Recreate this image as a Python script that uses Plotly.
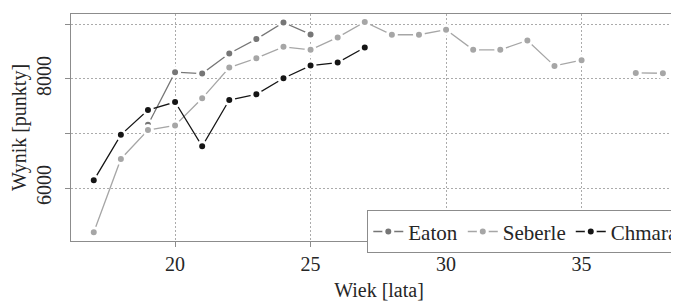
import plotly.graph_objects as go

# Data (age in years, score in points)
eaton_age = [19, 20, 21, 22, 23, 24, 25]
eaton_score = [7160, 8123, 8098, 8466, 8730, 9036, 8815]

seberle_age = [17, 18, 19, 20, 21, 22, 23, 24, 25, 26, 27, 28, 29, 30, 31, 32, 33, 34, 35, 36, 37, 38]
seberle_score = [5190, 6534, 7062, 7148, 7645, 8208, 8380, 8589, 8534, 8761, 9043,
                 8810, 8810, 8902, 8534, 8534, 8705, 8239, 8344, None, 8110, 8104]

chmara_age = [17, 18, 19, 20, 21, 22, 23, 24, 25, 26, 27]
chmara_score = [6142, 6975, 7430, 7577, 6767, 7614, 7718, 8013, 8245, 8300, 8576]

x_ticks = [20, 25, 30, 35]
y_ticks = [6000, 7000, 8000, 9000]
y_ticktext = ["6000", "", "8000", ""]

FONT = "Liberation Serif"
TXT = "#262626"
AX = "#8c8c8c"
GRID = "#ababab"

def trace(name, xs, ys, color):
    return go.Scatter(
        x=xs, y=ys, name=name, mode="lines+markers",
        line=dict(color=color, width=1.3),
        marker=dict(color=color, size=9, line=dict(color="white", width=3)),
        connectgaps=False,
    )

fig = go.Figure()
fig.add_trace(trace("Eaton", eaton_age, eaton_score, "#767676"))
fig.add_trace(trace("Seberle", seberle_age, seberle_score, "#a6a6a6"))
fig.add_trace(trace("Chmara", chmara_age, chmara_score, "#151515"))

fig.update_layout(
    width=679, height=301,
    margin=dict(l=63, r=0, t=6, b=68),
    paper_bgcolor="white", plot_bgcolor="white",
    font=dict(family=FONT, size=20, color=TXT),
    showlegend=True,
    legend=dict(
        orientation="h", x=0.481, y=0.135, xanchor="left", yanchor="top",
        bgcolor="white", bordercolor=AX, borderwidth=1,
        font=dict(family=FONT, size=21, color=TXT),
        itemwidth=30, tracegroupgap=0,
    ),
    xaxis=dict(
        range=[16.16, 38.89], tickvals=x_ticks,
        showgrid=True, gridcolor=GRID, griddash="2px,2px", gridwidth=1,
        showline=True, mirror=True, linecolor=AX, linewidth=1,
        ticks="outside", ticklen=5, tickcolor=AX,
        zeroline=False,
        tickfont=dict(family=FONT, size=20, color=TXT),
        title=dict(text="Wiek [lata]", font=dict(family=FONT, size=20, color=TXT), standoff=8),
    ),
    yaxis=dict(
        range=[5030, 9190], tickvals=y_ticks, ticktext=y_ticktext,
        tickangle=-90, ticklabelstandoff=6,
        showgrid=True, gridcolor=GRID, griddash="2px,2px", gridwidth=1,
        showline=True, mirror=False, linecolor=AX, linewidth=1,
        ticks="outside", ticklen=5, tickcolor=AX,
        zeroline=False,
        tickfont=dict(family=FONT, size=20, color=TXT),
        title=dict(text="Wynik [punkty]", font=dict(family=FONT, size=20, color=TXT), standoff=4),
    ),
)

fig.write_html("out.html")
